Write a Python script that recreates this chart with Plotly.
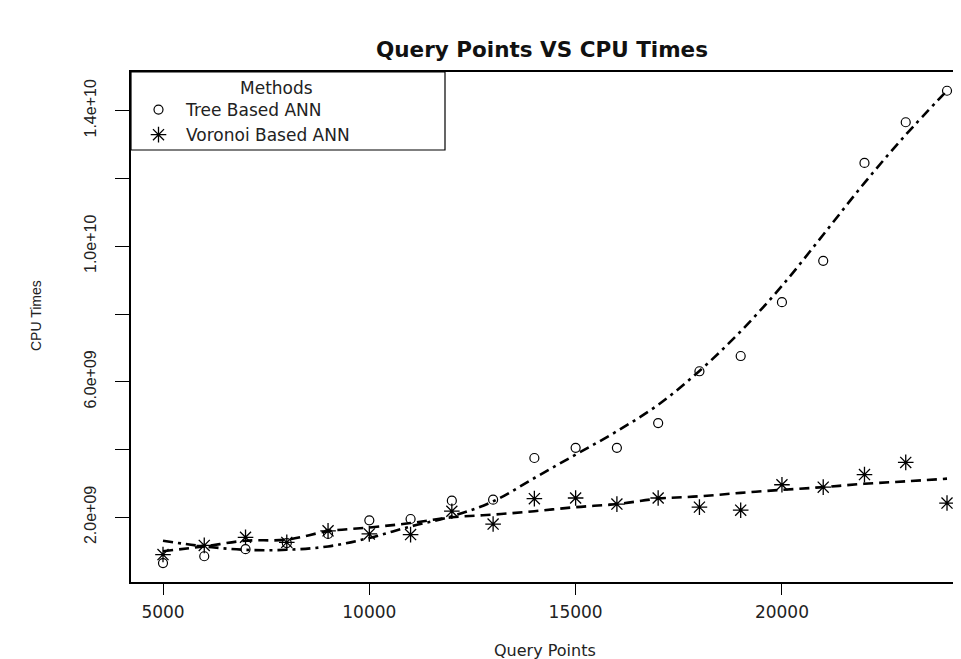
import plotly.graph_objects as go

# ---- data ----
query_points = [5000, 6000, 7000, 8000, 9000, 10000, 11000, 12000, 13000, 14000,
                15000, 16000, 17000, 18000, 19000, 20000, 21000, 22000, 23000, 24000]
tree_times = [0.65e9, 0.85e9, 1.06e9, 1.24e9, 1.51e9, 1.91e9, 1.95e9, 2.49e9, 2.52e9, 3.75e9,
              4.05e9, 4.05e9, 4.78e9, 6.31e9, 6.76e9, 8.35e9, 9.57e9, 12.46e9, 13.66e9, 14.59e9]
voronoi_times = [0.90e9, 1.17e9, 1.41e9, 1.26e9, 1.60e9, 1.51e9, 1.49e9, 2.18e9, 1.80e9, 2.55e9,
                 2.57e9, 2.39e9, 2.57e9, 2.30e9, 2.21e9, 2.96e9, 2.89e9, 3.26e9, 3.62e9, 2.42e9]
# fitted (smoothed) curves
tree_fit = [1.31e9, 1.14e9, 1.04e9, 1.04e9, 1.14e9, 1.39e9, 1.73e9, 2.03e9, 2.47e9, 3.16e9,
            3.85e9, 4.54e9, 5.32e9, 6.32e9, 7.49e9, 8.83e9, 10.34e9, 11.87e9, 13.29e9, 14.59e9]
voronoi_fit = [1.00e9, 1.14e9, 1.31e9, 1.34e9, 1.59e9, 1.70e9, 1.83e9, 2.00e9, 2.08e9, 2.18e9,
               2.30e9, 2.39e9, 2.55e9, 2.62e9, 2.72e9, 2.81e9, 2.89e9, 2.99e9, 3.06e9, 3.14e9]

x_ticks = [5000, 10000, 15000, 20000]
x_tick_labels = ["5000", "10000", "15000", "20000"]
y_ticks = [2e9, 4e9, 6e9, 8e9, 10e9, 12e9, 14e9]
y_tick_labels = ["2.0e+09", "", "6.0e+09", "", "1.0e+10", "", "1.4e+10"]

HFONT = "DejaVu Sans, Verdana, sans-serif"          # horizontal texts (wide glyphs)
VFONT = "Liberation Sans, Arial, sans-serif"        # rotated texts
W, H = 961, 659
L, R, T, B = 123, 0, 64, 85
PW, PH = W - L - R, H - T - B


def px_x(px):
    return (px - L) / PW


def px_y(py):
    return (H - B - py) / PH


fig = go.Figure()

fig.add_trace(go.Scatter(x=query_points, y=tree_fit, mode="lines", showlegend=False,
                         line=dict(color="black", width=2.6, dash="10px,5px,3px,5px", shape="spline"),
                         hoverinfo="skip"))
fig.add_trace(go.Scatter(x=query_points, y=voronoi_fit, mode="lines", showlegend=False,
                         line=dict(color="black", width=2.6, dash="10px,6px", shape="spline"),
                         hoverinfo="skip"))
fig.add_trace(go.Scatter(x=query_points, y=tree_times, mode="markers", name="Tree Based ANN",
                         marker=dict(symbol="circle-open", size=9, color="black",
                                     line=dict(color="black", width=1.2))))
fig.add_trace(go.Scatter(x=query_points, y=voronoi_times, mode="markers", name="Voronoi Based ANN",
                         marker=dict(symbol="asterisk-open", size=13, color="black",
                                     line=dict(color="black", width=1.3))))

fig.update_layout(
    width=W, height=H,
    margin=dict(l=L, r=R, t=T, b=B, pad=0),
    paper_bgcolor="white", plot_bgcolor="white",
    font=dict(family=HFONT, color="#222", size=17),
    title=dict(text="<b>Query Points VS CPU Times</b>", x=534 / W, xref="container", xanchor="center",
               y=1 - 41 / H, yref="container", yanchor="middle",
               font=dict(family=HFONT, size=21.5, color="#111")),
    legend=dict(x=px_x(123), y=px_y(84), xanchor="left", yanchor="top", xref="paper", yref="paper",
                borderwidth=0, bgcolor="rgba(0,0,0,0)", itemwidth=45,
                font=dict(family=HFONT, size=17, color="#222"), tracegroupgap=0),
    showlegend=True,
)

# legend frame and title
fig.add_shape(type="rect", xref="paper", yref="paper",
              x0=px_x(123), x1=px_x(437), y0=px_y(142), y1=px_y(64),
              line=dict(color="black", width=1.2), fillcolor="white", layer="below")
fig.add_annotation(text="Methods", xref="paper", yref="paper", x=px_x(268), y=px_y(80),
                   showarrow=False, xanchor="center", yanchor="middle",
                   font=dict(family=HFONT, size=17, color="#222"))

fig.update_xaxes(range=[4224.5, 24533], tickvals=x_ticks, ticktext=x_tick_labels,
                 showgrid=False, zeroline=False, showline=True, linecolor="black", linewidth=1.5,
                 mirror=True, ticks="outside", ticklen=11, tickwidth=1.2, tickcolor="black",
                 tickfont=dict(family=HFONT, size=17, color="#222"), ticklabelstandoff=3)
fig.update_yaxes(range=[0.0903e9, 15.143e9], tickvals=y_ticks, ticktext=y_tick_labels,
                 showgrid=False, zeroline=False, showline=True, linecolor="black", linewidth=1.5,
                 ticks="outside", ticklen=14, tickwidth=1.2, tickcolor="black", tickangle=-90,
                 tickfont=dict(family=VFONT, size=16, color="#222"), ticklabelstandoff=13)

fig.add_annotation(text="Query Points", xref="paper", yref="paper",
                   x=px_x(537), y=px_y(642),
                   showarrow=False, xanchor="center", yanchor="middle",
                   font=dict(family=HFONT, size=16, color="#222"))
fig.add_annotation(text="CPU Times", xref="paper", yref="paper",
                   x=px_x(28), y=px_y(308),
                   showarrow=False, xanchor="center", yanchor="middle", textangle=-90,
                   font=dict(family=VFONT, size=14, color="#222"))

fig.write_html("out.html")
